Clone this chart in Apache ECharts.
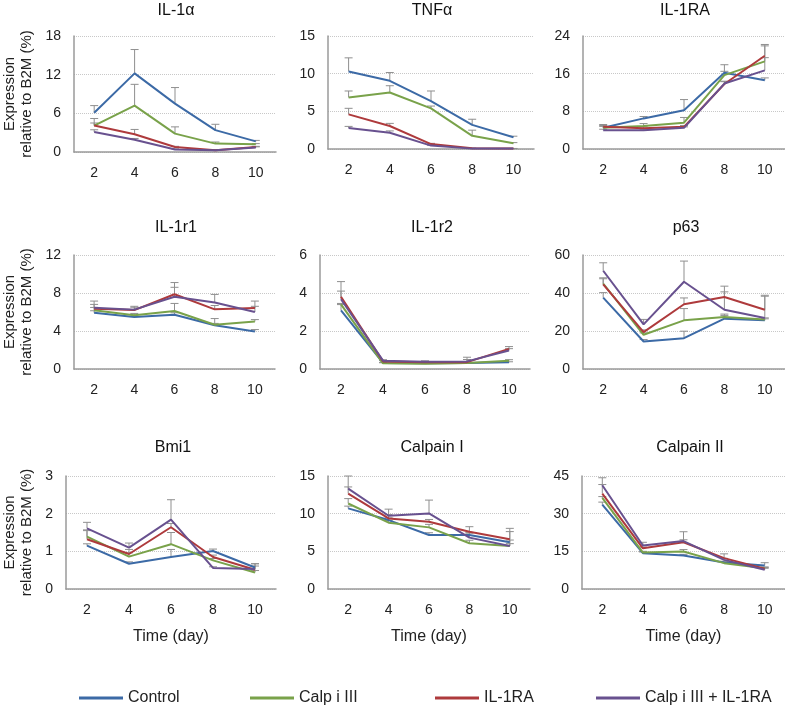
<!DOCTYPE html>
<html>
<head>
<meta charset="utf-8">
<script src="https://cdn.jsdelivr.net/npm/echarts@6/dist/echarts.min.js"></script>
<style>
html,body{margin:0;padding:0;background:#fff;}
#chart{width:785px;height:709px;}
</style>
</head>
<body>
<div id="chart"></div>
<script>
// ---- data ----
const categories = ['2', '4', '6', '8', '10'];
const seriesNames = ['Control', 'Calp i III', 'IL-1RA', 'Calp i III + IL-1RA'];
const panelTitles = ['IL-1α', 'TNFα', 'IL-1RA', 'IL-1r1', 'IL-1r2', 'p63', 'Bmi1', 'Calpain I', 'Calpain II'];
const yMaxes = [18, 15, 24, 12, 6, 60, 3, 15, 45];
const yIntervals = [6, 5, 8, 4, 2, 20, 1, 5, 15];

// values per panel: rows = Control, Calp i III, IL-1RA, Calp i III + IL-1RA
const IL1a = [
  [6.1, 12.2, 7.5, 3.4, 1.65],
  [4.1, 7.2, 2.85, 1.3, 1.2],
  [4.1, 2.75, 0.78, 0.26, 0.78],
  [3.1, 1.9, 0.4, 0.26, 0.7]
];
const IL1a_err = [
  [1.1, 3.7, 2.5, 0.9, 0.15],
  [1.1, 3.3, 1.05, 0.25, 0.1],
  [0.4, 0.75, 0.1, 0.05, 0.1],
  [0.35, 0.2, 0.1, 0.05, 0.1]
];
const TNFa = [
  [10.3, 9.05, 6.35, 3.2, 1.55],
  [6.85, 7.5, 5.4, 1.75, 0.75],
  [4.6, 3.05, 0.65, 0.1, 0.05],
  [2.8, 2.15, 0.45, 0.05, 0.05]
];
const TNFa_err = [
  [1.8, 1.1, 1.35, 0.75, 0.15],
  [0.85, 0.9, 0.3, 0.75, 0.1],
  [0.8, 0.35, 0.1, 0.02, 0.02],
  [0.2, 0.25, 0.05, 0.02, 0.02]
];
const IL1RA = [
  [4.5, 6.5, 8.25, 16.2, 14.6],
  [4.5, 4.9, 5.6, 15.7, 18.6],
  [4.7, 4.4, 4.7, 13.8, 19.8],
  [4.0, 4.0, 4.5, 13.9, 16.7]
];
const IL1RA_err = [
  [0.7, 0.4, 2.25, 1.7, 0.5],
  [0.3, 0.5, 1.1, 0.8, 3.6],
  [0.3, 0.3, 0.3, 0.5, 2.1],
  [0.2, 0.2, 0.2, 0.5, 2.7]
];
const IL1r1 = [
  [5.93, 5.47, 5.72, 4.6, 3.95],
  [6.18, 5.65, 6.1, 4.66, 5.0],
  [6.35, 6.2, 7.87, 6.28, 6.42],
  [6.46, 6.25, 7.6, 7.0, 6.0]
];
const IL1r1_err = [
  [0.2, 0.2, 0.2, 0.2, 0.2],
  [0.3, 0.2, 0.8, 0.65, 0.2],
  [0.45, 0.3, 1.23, 0.4, 0.73],
  [0.69, 0.35, 1.0, 0.85, 0.6]
];
const IL1r2 = [
  [3.09, 0.32, 0.3, 0.32, 0.35],
  [3.4, 0.3, 0.27, 0.32, 0.44],
  [3.8, 0.4, 0.35, 0.36, 1.06],
  [3.67, 0.44, 0.38, 0.4, 0.97]
];
const IL1r2_err = [
  [0.3, 0.03, 0.03, 0.03, 0.03],
  [0.05, 0.03, 0.03, 0.03, 0.05],
  [0.8, 0.05, 0.05, 0.26, 0.12],
  [0.43, 0.05, 0.05, 0.1, 0.1]
];
const P63 = [
  [37.6, 14.5, 16.2, 26.5, 25.6],
  [45, 18, 25.6, 27.4, 26.1],
  [44.5, 19.4, 34.1, 37.9, 31.2],
  [51.7, 23.5, 45.9, 31.2, 26.8]
];
const P63_err = [
  [2.6, 1.0, 3.7, 1.7, 0.8],
  [3.0, 1.0, 6.2, 1.5, 0.8],
  [3.0, 1.2, 3.3, 5.7, 7.6],
  [4.2, 2.6, 10.9, 9.4, 11.5]
];
const BMI1 = [
  [1.15, 0.67, 0.85, 1.01, 0.57],
  [1.39, 0.86, 1.19, 0.76, 0.44],
  [1.32, 0.93, 1.64, 0.85, 0.51],
  [1.61, 1.1, 1.84, 0.56, 0.53]
];
const BMI1_err = [
  [0.05, 0.05, 0.2, 0.05, 0.1],
  [0.18, 0.1, 0.31, 0.05, 0.05],
  [0.23, 0.12, 0.1, 0.05, 0.1],
  [0.16, 0.12, 0.53, 0.03, 0.14]
];
const CAPN1 = [
  [10.7, 9.15, 7.17, 7.17, 6.2],
  [11.35, 8.8, 8.18, 6.07, 5.72],
  [12.67, 9.37, 8.93, 7.6, 6.6],
  [13.33, 9.72, 10.03, 6.82, 5.72]
];
const CAPN1_err = [
  [0.3, 0.3, 0.3, 0.3, 0.3],
  [0.65, 0.3, 0.4, 0.4, 0.3],
  [0.88, 0.5, 0.3, 0.67, 1.45],
  [1.67, 0.88, 1.77, 0.6, 1.9]
];
const CAPN2 = [
  [33.6, 14.25, 13.3, 10.55, 9.37],
  [36.3, 14.5, 14.9, 10.3, 8.3],
  [38, 16.2, 18.6, 12.3, 8.05],
  [41.3, 17.3, 19.1, 11.6, 7.65]
];
const CAPN2_err = [
  [1.0, 0.5, 0.5, 0.5, 1.1],
  [0.5, 0.5, 0.8, 0.5, 0.5],
  [3.6, 0.5, 1.0, 1.7, 0.5],
  [3.0, 1.3, 3.7, 0.6, 0.6]
];

// ---- layout / style ----
const panelValues = [IL1a, TNFa, IL1RA, IL1r1, IL1r2, P63, BMI1, CAPN1, CAPN2];
const panelErrors = [IL1a_err, TNFa_err, IL1RA_err, IL1r1_err, IL1r2_err, P63_err, BMI1_err, CAPN1_err, CAPN2_err];
const COLORS = ['#3c6aa6', '#79a24a', '#ae3a3c', '#68518f'];
const FONT = "'Liberation Sans', Arial, Helvetica, sans-serif";
const gridBoxes = [
  {left: 74, top: 36, width: 202, height: 116},
  {left: 328, top: 36, width: 206, height: 113},
  {left: 583, top: 36, width: 202, height: 113},
  {left: 74, top: 255, width: 201, height: 114},
  {left: 320, top: 255, width: 210, height: 114},
  {left: 583, top: 255, width: 202, height: 114},
  {left: 66, top: 476, width: 210, height: 113},
  {left: 328, top: 476, width: 202, height: 113},
  {left: 582, top: 476, width: 203, height: 113}
];
const titleCenters = [[176, 11], [432, 11], [685, 11], [176, 228], [432, 228], [686, 228], [173, 448], [432, 448], [690, 448]];

const grids = [], xAxes = [], yAxes = [], series = [], graphics = [];
for (let p = 0; p < 9; p++) {
  const g = gridBoxes[p];
  grids.push({left: g.left, top: g.top, width: g.width, height: g.height, containLabel: false});
  const bottomRow = p >= 6;
  xAxes.push({
    type: 'category', gridIndex: p, data: categories, boundaryGap: true,
    axisLine: {show: true, lineStyle: {color: '#9a9a9a', width: 1.5}},
    axisTick: {show: false},
    axisLabel: {color: '#222', fontSize: 14, fontFamily: FONT, margin: 14},
    splitLine: {show: false},
    name: bottomRow ? 'Time (day)' : '',
    nameLocation: 'middle', nameGap: 40,
    nameTextStyle: {color: '#222', fontSize: 16, fontFamily: FONT}
  });
  const firstCol = p % 3 === 0;
  yAxes.push({
    type: 'value', gridIndex: p, min: 0, max: yMaxes[p], interval: yIntervals[p],
    axisLine: {show: true, lineStyle: {color: '#9a9a9a', width: 1.5}},
    axisTick: {show: false},
    axisLabel: {color: '#222', fontSize: 14, fontFamily: FONT, margin: 13},
    splitLine: {show: true, lineStyle: {color: '#c8c8c8', type: 'dotted', width: 1}},
    name: firstCol ? 'Expression\nrelative to B2M (%)' : '',
    nameLocation: 'middle', nameRotate: 90, nameGap: g.left - 35,
    nameTextStyle: {color: '#222', fontSize: 15, lineHeight: 17, fontFamily: FONT}
  });
  for (let s = 0; s < 4; s++) {
    const vals = panelValues[p][s];
    const errs = panelErrors[p][s];
    series.push({
      type: 'custom', xAxisIndex: p, yAxisIndex: p, z: 1, silent: true,
      name: 'err' + p + '_' + s,
      data: vals.map((v, j) => [j, v, errs[j]]),
      encode: {x: 0, y: 1},
      renderItem: function (params, api) {
        const x = api.value(0), v = api.value(1), e = api.value(2);
        const a = api.coord([x, v]);
        const b = api.coord([x, v + e]);
        const st = {stroke: '#8f8f8f', lineWidth: 1};
        return {
          type: 'group', children: [
            {type: 'line', shape: {x1: a[0], y1: a[1], x2: b[0], y2: b[1]}, style: st},
            {type: 'line', shape: {x1: b[0] - 4, y1: b[1], x2: b[0] + 4, y2: b[1]}, style: st}
          ]
        };
      }
    });
    series.push({
      type: 'line', name: seriesNames[s], xAxisIndex: p, yAxisIndex: p, z: 2,
      data: vals, symbol: 'none', showSymbol: false,
      lineStyle: {color: COLORS[s], width: 2},
      itemStyle: {color: COLORS[s]},
      emphasis: {disabled: true}, animation: false
    });
  }
  graphics.push({
    type: 'text', x: titleCenters[p][0], y: titleCenters[p][1],
    style: {text: panelTitles[p], fill: '#111', font: '16px ' + FONT, textAlign: 'center', textVerticalAlign: 'middle'}
  });
}

const legendLefts = [74, 245, 430, 591];
const legends = seriesNames.map((n, i) => ({
  data: [n], left: legendLefts[i], top: 685, orient: 'horizontal',
  icon: 'rect', itemWidth: 44, itemHeight: 3, itemGap: 8,
  textStyle: {color: '#222', fontSize: 16, fontFamily: FONT},
  selectedMode: false
}));

const chart = echarts.init(document.getElementById('chart'), null, {renderer: 'canvas'});
chart.setOption({
  animation: false,
  backgroundColor: '#fff',
  color: COLORS,
  grid: grids, xAxis: xAxes, yAxis: yAxes, series: series,
  legend: legends,
  graphic: graphics.map(t => ({type: 'text', x: t.x, y: t.y, style: t.style, silent: true}))
});
</script>
</body>
</html>
